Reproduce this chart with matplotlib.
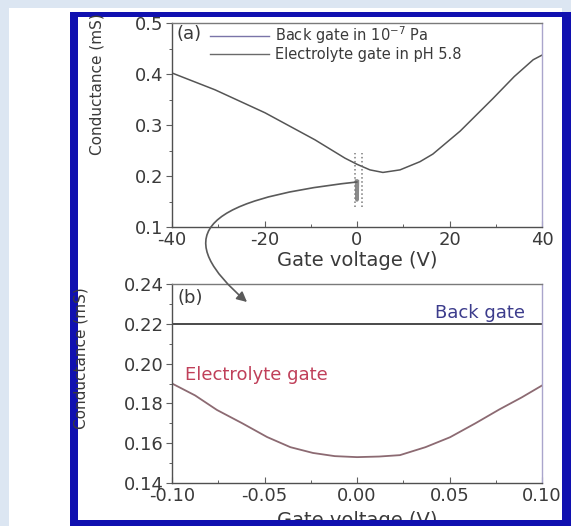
import matplotlib.pyplot as plt
from matplotlib.patches import Rectangle, FancyArrowPatch
from matplotlib.path import Path
from matplotlib.ticker import MultipleLocator, FormatStrFormatter

W, H = 571, 526

# (a) back gate sweep, gate voltage in V, conductance in mS
bg_v = [-40, -30.7, -19.9, -9.1, -2.6, 0, 2.8, 5.6, 9.3, 13.6, 16.4, 22.3, 29.4, 34, 38.1, 40]
bg_g = [0.402, 0.369, 0.324, 0.271, 0.235, 0.223, 0.212, 0.207, 0.212, 0.228, 0.243,
        0.288, 0.352, 0.395, 0.428, 0.437]

# electrolyte gate sweep (also shown squeezed near 0 V in panel a)
ec_v = [-0.1, -0.0875, -0.0757, -0.062, -0.0486, -0.036, -0.0238, -0.012, 0,
        0.012, 0.0232, 0.037, 0.0503, 0.064, 0.077, 0.089, 0.1]
ec_g = [0.190, 0.184, 0.1767, 0.170, 0.1631, 0.158, 0.1551, 0.1535, 0.153,
        0.1533, 0.154, 0.158, 0.163, 0.170, 0.177, 0.183, 0.189]

# repeated electrolyte sweeps seen as dotted bars in panel a
sweep_v = [-0.4, 1.1]
sweep_lo = [0.14, 0.14]
sweep_hi = [0.245, 0.245]

# (b) back gate level over the small window
bgb_v = [-0.1, 0.1]
bgb_g = [0.22, 0.22]

plt.rcParams['font.family'] = ['DejaVu Sans']
plt.rcParams['axes.unicode_minus'] = False

txt = '#3a3a3a'
fig = plt.figure(figsize=(W / 100, H / 100), dpi=100, facecolor='#dce6f2')


def px_rect(x0, y0, x1, y1, color, z):
    fig.add_artist(Rectangle((x0 / W, 1 - y1 / H), (x1 - x0) / W, (y1 - y0) / H,
                             transform=fig.transFigure, facecolor=color,
                             edgecolor='none', zorder=z))


px_rect(9, 8, 562, 526, 'white', -1)

ax_a = fig.add_axes([172 / W, 1 - 227 / H, 370 / W, 204 / H])
ax_b = fig.add_axes([172 / W, 1 - 483 / H, 370 / W, 199 / H])

for ax in (ax_a, ax_b):
    ax.spines['left'].set_color('#505050')
    ax.spines['bottom'].set_color('#505050')
    ax.spines['top'].set_color('#7a7a7a')
    ax.spines['right'].set_color('#aaa5cc')
    for s in ax.spines.values():
        s.set_linewidth(1.0)
    ax.tick_params(axis='x', which='both', direction='in', colors='#606060',
                   labelcolor=txt, labelsize=13, pad=3)
    ax.tick_params(axis='y', which='both', direction='out', colors='#606060',
                   labelcolor=txt, labelsize=13, pad=2)
    ax.tick_params(which='major', length=4, width=0.8)
    ax.tick_params(which='minor', length=2.5, width=0.7)

# panel (a)
ax_a.plot(bg_v, bg_g, color='#555555', lw=1.1, label=r'Back gate in 10$^{-7}$ Pa')
ax_a.plot(ec_v, ec_g, color='#8a8a8a', lw=2.5, label='Electrolyte gate in pH 5.8')
ax_a.vlines(sweep_v, sweep_lo, sweep_hi, colors='#7a7a7a', linestyles=':', lw=1.1)
ax_a.set_xlim(-40, 40)
ax_a.set_ylim(0.1, 0.5)
ax_a.xaxis.set_major_locator(MultipleLocator(20))
ax_a.xaxis.set_minor_locator(MultipleLocator(10))
ax_a.yaxis.set_major_locator(MultipleLocator(0.1))
ax_a.yaxis.set_minor_locator(MultipleLocator(0.05))
ax_a.yaxis.set_major_formatter(FormatStrFormatter('%.1f'))
ax_a.set_xlabel('Gate voltage (V)', fontsize=14, color=txt, labelpad=1)
ax_a.text(0.012, 0.99, '(a)', transform=ax_a.transAxes, fontsize=13, color=txt,
          ha='left', va='top')
leg = ax_a.legend(loc='upper left', bbox_to_anchor=(0.10, 1.0), frameon=False,
                  fontsize=10.5, handlelength=4.0, handletextpad=0.4,
                  labelspacing=0.05, borderpad=0.1, borderaxespad=0)
for t in leg.get_texts():
    t.set_color(txt)
leg.get_lines()[0].set_color('#7a74a8')
leg.get_lines()[0].set_linewidth(1.0)
leg.get_lines()[1].set_color('#6a6a6a')
leg.get_lines()[1].set_linewidth(1.0)

# panel (b)
ax_b.plot(bgb_v, bgb_g, color='#2a2a2a', lw=1.2)
ax_b.plot(ec_v, ec_g, color='#8c6a72', lw=1.3)
ax_b.set_xlim(-0.1, 0.1)
ax_b.set_ylim(0.14, 0.24)
ax_b.xaxis.set_major_locator(MultipleLocator(0.05))
ax_b.xaxis.set_minor_locator(MultipleLocator(0.025))
ax_b.yaxis.set_major_locator(MultipleLocator(0.02))
ax_b.yaxis.set_minor_locator(MultipleLocator(0.01))
ax_b.xaxis.set_major_formatter(FormatStrFormatter('%.2f'))
ax_b.yaxis.set_major_formatter(FormatStrFormatter('%.2f'))
ax_b.set_xlabel('Gate voltage (V)', fontsize=14, color=txt, labelpad=4)
ax_b.text(0.015, 0.975, '(b)', transform=ax_b.transAxes, fontsize=13, color=txt,
          ha='left', va='top')
ax_b.text(0.955, 0.855, 'Back gate', transform=ax_b.transAxes, fontsize=13,
          color='#3c3c8c', ha='right', va='center')
ax_b.text(0.035, 0.545, 'Electrolyte gate', transform=ax_b.transAxes, fontsize=13,
          color='#c0405a', ha='left', va='center')

# y labels sit off-centre, as in the source figure
fig.text(97 / W, 1 - 84 / H, 'Conductance (mS)', rotation=90, fontsize=11,
         color=txt, ha='center', va='center', zorder=6)
fig.text(81 / W, 1 - 358 / H, 'Conductance (mS)', rotation=90, fontsize=11,
         color=txt, ha='center', va='center', zorder=6)

# curved arrow from the zoom region in (a) down to (b)
pts = [(357, 182), (190, 200), (175, 240), (247, 302)]
verts = [(x / W, 1 - y / H) for x, y in pts]
arrow_path = Path(verts, [Path.MOVETO, Path.CURVE4, Path.CURVE4, Path.CURVE4])
fig.add_artist(FancyArrowPatch(path=arrow_path, transform=fig.transFigure,
                               arrowstyle='-|>,head_length=0.5,head_width=0.25',
                               mutation_scale=12, color='#5a5a5a', lw=1.2, zorder=3))

# blue slide frame
blue = '#1010b0'
px_rect(70, 12, 78, 526, blue, 5)
px_rect(70, 12, 571, 17, blue, 5)
px_rect(562, 12, 571, 526, blue, 5)
px_rect(70, 520, 571, 526, blue, 5)

fig.savefig('out.png', dpi=100, facecolor=fig.get_facecolor())
